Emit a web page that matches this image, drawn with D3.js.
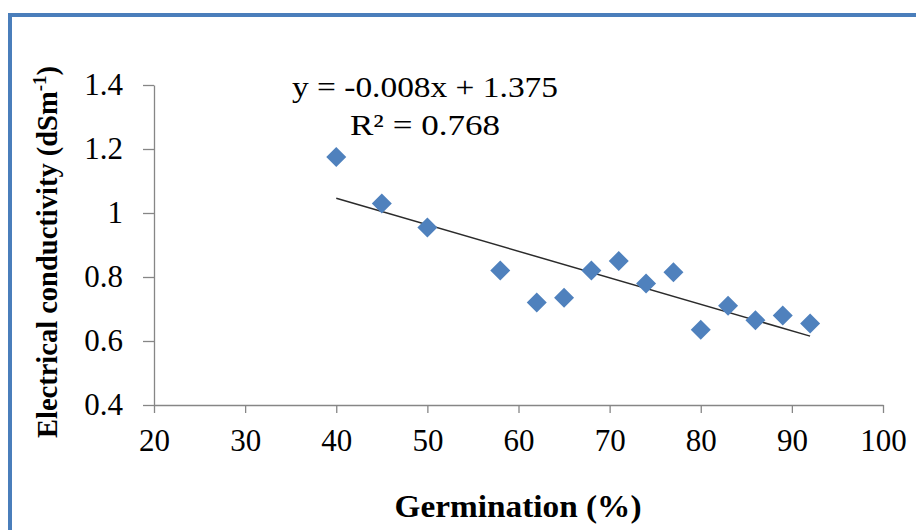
<!DOCTYPE html>
<html>
<head>
<meta charset="utf-8">
<script src="https://cdn.jsdelivr.net/npm/d3@7"></script>
<style>
    body { margin: 0; background: #fff; }
    svg { display: block; }
</style>
</head>
<body>
<div class="chart"></div>
<script>
// germination (%) vs electrical conductivity (dSm-1)
const germination = [40, 45, 50, 58, 62, 65, 68, 71, 74, 77, 80, 83, 86, 89, 92]
const conductivity = [1.175, 1.03, 0.955, 0.82, 0.72, 0.735, 0.82, 0.85, 0.78, 0.815, 0.635, 0.71, 0.665, 0.68, 0.655]
const xTicks = [20, 30, 40, 50, 60, 70, 80, 90, 100]
const yTicks = [0.4, 0.6, 0.8, 1, 1.2, 1.4]
const equationText = 'y = -0.008x + 1.375'
const r2Text = 'R² = 0.768'

const width = 916,
    height = 530

const svg = d3.select('.chart').append('svg')
    .attr('width', width)
    .attr('height', height)

// рамка вокруг графика
svg.append('rect')
    .attr('x', 10)
    .attr('y', 15)
    .attr('width', 1000)
    .attr('height', 600)
    .style('fill', 'none')
    .style('stroke', '#4a7ebb')
    .style('stroke-width', 4)

const x = d3.scaleLinear().domain([20, 100]).range([154, 883])
const y = d3.scaleLinear().domain([0.4, 1.4]).range([405, 85])

const axisColor = '#868686'

const xAxis = svg.append('g')
    .attr('transform', 'translate(0,' + y(0.4) + ')')
    .call(d3.axisBottom(x).tickValues(xTicks).tickSize(8).tickPadding(16).tickSizeOuter(0))
const yAxis = svg.append('g')
    .attr('transform', 'translate(' + x(20) + ',0)')
    .call(d3.axisLeft(y).tickValues(yTicks).tickSize(11).tickPadding(20).tickSizeOuter(0)
        .tickFormat(d => d === 1 ? '1' : d3.format('.1f')(d)))

;[xAxis, yAxis].forEach(ax => {
    ax.select('.domain').style('stroke', axisColor).style('stroke-width', 1.3)
    ax.selectAll('.tick line').style('stroke', axisColor).style('stroke-width', 1.3)
    ax.selectAll('.tick text')
        .style('font-family', '"Liberation Serif", serif')
        .style('font-size', '31px')
        .style('fill', '#000')
})
xAxis.selectAll('.tick text').attr('dy', '0.71em')

// линия тренда (МНК по точкам)
const mx = d3.mean(germination)
const my = d3.mean(conductivity)
let sxy = 0, sxx = 0
germination.forEach((g, i) => {
    sxy += (g - mx) * (conductivity[i] - my)
    sxx += (g - mx) * (g - mx)
})
const slope = sxy / sxx
const intercept = my - slope * mx
const xMin = d3.min(germination), xMax = d3.max(germination)

svg.append('line')
    .attr('x1', x(xMin))
    .attr('y1', y(intercept + slope * xMin))
    .attr('x2', x(xMax))
    .attr('y2', y(intercept + slope * xMax))
    .style('stroke', '#2b2b2b')
    .style('stroke-width', 1.5)

const points = germination.map((g, i) => ({ g: g, ec: conductivity[i] }))
svg.selectAll('.pt')
    .data(points)
    .enter().append('path')
    .attr('class', 'pt')
    .attr('d', d3.symbol().type(d3.symbolSquare).size(200))
    .attr('transform', d => 'translate(' + x(d.g) + ',' + y(d.ec) + ') rotate(45)')
    .style('fill', '#4f81bd')

// уравнение
svg.append('text')
    .attr('x', 425)
    .attr('y', 97)
    .attr('text-anchor', 'middle')
    .attr('textLength', 266)
    .attr('lengthAdjust', 'spacingAndGlyphs')
    .style('font-family', '"Liberation Serif", serif')
    .style('font-size', '30px')
    .text(equationText)
svg.append('text')
    .attr('x', 425)
    .attr('y', 135)
    .attr('text-anchor', 'middle')
    .attr('textLength', 150)
    .attr('lengthAdjust', 'spacingAndGlyphs')
    .style('font-family', '"Liberation Serif", serif')
    .style('font-size', '30px')
    .text(r2Text)

// подписи осей
svg.append('text')
    .attr('x', 518)
    .attr('y', 517)
    .attr('text-anchor', 'middle')
    .attr('textLength', 247)
    .attr('lengthAdjust', 'spacingAndGlyphs')
    .style('font-family', '"Liberation Serif", serif')
    .style('font-weight', 'bold')
    .style('font-size', '31px')
    .text('Germination (%)')

const yTitle = svg.append('text')
    .attr('transform', 'translate(57,252) rotate(-90)')
    .attr('text-anchor', 'middle')
    .style('font-family', '"Liberation Serif", serif')
    .style('font-weight', 'bold')
    .style('font-size', '28.5px')
yTitle.append('tspan').text('Electrical conductivity (dSm')
yTitle.append('tspan').attr('dy', -11).style('font-size', '19px').text('-1')
yTitle.append('tspan').attr('dy', 11).text(')')
</script>
</body>
</html>
